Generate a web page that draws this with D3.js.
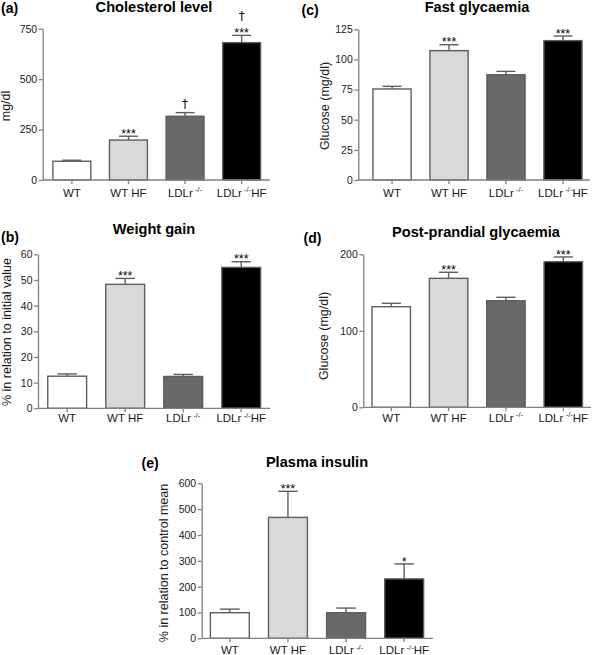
<!DOCTYPE html>
<html>
<head>
<meta charset="utf-8">
<script src="https://cdn.jsdelivr.net/npm/d3@7/dist/d3.min.js"></script>
<style>
  html, body { margin: 0; padding: 0; background: #fff; }
  svg { display: block; font-family: "Liberation Sans", Arial, Helvetica, sans-serif; }
</style>
</head>
<body>
<svg id="chart" width="594" height="655"></svg>
<script>
// ---------------- DATA ----------------
const categories = ["WT", "WT HF", "LDLr-/-", "LDLr-/- HF"];

const cholesterol      = [93, 198, 316, 681];
const cholesterolErr   = [5, 19, 18, 36];
const cholesterolSig   = [[], ["***"], ["†"], ["***", "†"]];
const cholesterolTicks = [0, 250, 500, 750];

const weightGain      = [12.5, 48.3, 12.4, 54.9];
const weightGainErr   = [0.9, 2.3, 0.8, 2.2];
const weightGainSig   = [[], ["***"], [], ["***"]];
const weightGainTicks = [0, 10, 20, 30, 40, 50, 60];

const fastGlycaemia      = [75.5, 107.3, 87.3, 115.6];
const fastGlycaemiaErr   = [2.2, 4.9, 2.8, 3.8];
const fastGlycaemiaSig   = [[], ["***"], [], ["***"]];
const fastGlycaemiaTicks = [0, 25, 50, 75, 100, 125];

const postGlycaemia      = [131.5, 168.6, 139.3, 190.3];
const postGlycaemiaErr   = [4.5, 7.9, 4.5, 6.2];
const postGlycaemiaSig   = [[], ["***"], [], ["***"]];
const postGlycaemiaTicks = [0, 100, 200];

const insulin      = [99, 468, 99, 230];
const insulinErr   = [14, 101, 18, 58];
const insulinSig   = [[], ["***"], [], ["*"]];
const insulinTicks = [0, 100, 200, 300, 400, 500, 600];

// ---------------- STYLE / LAYOUT ----------------
const fills = ["#ffffff", "#d9d9d9", "#696969", "#000000"];
const axisColor = "#808080";
const barStroke = "#5e5e5e";
const textColor = "#1a1a1a";

const panels = [
  { letter: "(a)", title: "Cholesterol level", ylabel: "mg/dl",
    values: cholesterol, errs: cholesterolErr, sig: cholesterolSig, ticks: cholesterolTicks,
    yAxisX: 42.7, band: [43, 270.5], axisEnd: 270, yRange: [180, 28.7],
    titlePos: [154, 11.7], letterPos: [1, 12.5], ylabelPos: [9.5, 106], xlabDy: 16.7 },
  { letter: "(b)", title: "Weight gain", ylabel: "% in relation to initial value",
    values: weightGain, errs: weightGainErr, sig: weightGainSig, ticks: weightGainTicks,
    yAxisX: 38, band: [37.6, 270.8], axisEnd: 270, yRange: [408.3, 254.3],
    titlePos: [154, 234], letterPos: [1, 242], ylabelPos: [11, 332], xlabDy: 13.8 },
  { letter: "(c)", title: "Fast glycaemia", ylabel: "Glucose (mg/dl)",
    values: fastGlycaemia, errs: fastGlycaemiaErr, sig: fastGlycaemiaSig, ticks: fastGlycaemiaTicks,
    yAxisX: 358.3, band: [363, 592], axisEnd: 590, yRange: [180, 29.3],
    titlePos: [477, 11.7], letterPos: [301.5, 14.5], ylabelPos: [329, 106], xlabDy: 16.7 },
  { letter: "(d)", title: "Post-prandial glycaemia", ylabel: "Glucose (mg/dl)",
    values: postGlycaemia, errs: postGlycaemiaErr, sig: postGlycaemiaSig, ticks: postGlycaemiaTicks,
    yAxisX: 363.3, band: [362, 592.5], axisEnd: 591, yRange: [407.3, 254.3],
    titlePos: [476, 237], letterPos: [303.5, 243], ylabelPos: [328, 336], xlabDy: 14.2 },
  { letter: "(e)", title: "Plasma insulin", ylabel: "% in relation to control mean",
    values: insulin, errs: insulinErr, sig: insulinSig, ticks: insulinTicks,
    yAxisX: 201.7, band: [200.2, 433.8], axisEnd: 433, yRange: [638.3, 483.3],
    titlePos: [317, 466.5], letterPos: [141.5, 468], ylabelPos: [168, 563], xlabDy: 15.7 }
];

const svg = d3.select("#chart");

function xLabel(g, cat) {
  const parts = cat.split("-/-");
  const t = g.append("text").attr("text-anchor", "middle")
    .attr("font-size", 11.5).attr("fill", textColor);
  if (parts.length === 1) { t.text(cat); return t; }
  t.append("tspan").text(parts[0] + "\u2009");
  t.append("tspan").attr("font-size", 7.5).attr("dy", -4.5).text("-/-");
  if (parts[1]) t.append("tspan").attr("dy", 4.5).text(parts[1].trim());
  return t;
}

panels.forEach(p => {
  const g = svg.append("g");
  const maxTick = p.ticks[p.ticks.length - 1];
  const x = d3.scaleBand().domain(categories).range(p.band)
    .paddingInner(0.33).paddingOuter(0.175);
  const y = d3.scaleLinear().domain([0, maxTick]).range(p.yRange);
  const y0 = y(0);
  const bw = x.bandwidth();

  // error bars (behind bars)
  const eb = g.append("g").attr("stroke", barStroke).attr("stroke-width", 1.4).attr("fill", "none");
  categories.forEach((c, i) => {
    const cx = x(c) + bw / 2;
    const top = y(p.values[i] + p.errs[i]);
    eb.append("line").attr("x1", cx).attr("x2", cx).attr("y1", y(p.values[i])).attr("y2", top);
    eb.append("line").attr("x1", cx - bw * 0.25).attr("x2", cx + bw * 0.25).attr("y1", top).attr("y2", top);
  });

  // bars
  g.append("g").selectAll("rect").data(categories).join("rect")
    .attr("x", c => x(c))
    .attr("width", bw)
    .attr("y", (c, i) => y(p.values[i]))
    .attr("height", (c, i) => y0 - y(p.values[i]))
    .attr("fill", (c, i) => fills[i])
    .attr("stroke", barStroke)
    .attr("stroke-width", 1.4);

  // significance marks
  categories.forEach((c, i) => {
    const cx = x(c) + bw / 2;
    const cap = y(p.values[i] + p.errs[i]);
    let level = cap;
    p.sig[i].forEach((s, k) => {
      const t = g.append("text").attr("text-anchor", "middle").attr("fill", "#000");
      if (s.indexOf("*") >= 0) {
        const center = level - 5.5;
        t.attr("font-size", 12.5).attr("x", cx).attr("y", center + 7.2).text(s);
        level = center;
      } else {
        const base = k === 0 ? level - 4.4 : level - 10;
        t.attr("font-size", 12).attr("font-family", "DejaVu Sans, sans-serif")
          .attr("x", cx).attr("y", base).text(s);
        level = base - 8;
      }
    });
  });

  // y axis
  const ya = g.append("g").attr("transform", `translate(${p.yAxisX},0)`)
    .call(d3.axisLeft(y).tickValues(p.ticks).tickSize(4).tickSizeOuter(0).tickPadding(1.5));
  ya.select(".domain").attr("stroke", axisColor).attr("stroke-width", 1.3);
  ya.selectAll(".tick line").attr("stroke", axisColor).attr("stroke-width", 1.3);
  ya.selectAll(".tick text").attr("font-size", 10.5).attr("fill", textColor)
    .attr("font-family", "Liberation Sans, Arial, sans-serif");

  // x axis
  g.append("line").attr("x1", p.yAxisX).attr("x2", p.axisEnd).attr("y1", y0).attr("y2", y0)
    .attr("stroke", axisColor).attr("stroke-width", 1.3);
  const xa = g.append("g").attr("transform", `translate(0,${y0})`)
    .call(d3.axisBottom(x).tickSize(4).tickSizeOuter(0).tickFormat(() => ""));
  xa.select(".domain").remove();
  xa.selectAll(".tick line").attr("stroke", axisColor).attr("stroke-width", 1.3);
  categories.forEach(c => {
    xLabel(g, c).attr("x", x(c) + bw / 2).attr("y", y0 + p.xlabDy);
  });

  // y label
  g.append("text").attr("transform", `translate(${p.ylabelPos[0]},${p.ylabelPos[1]}) rotate(-90)`)
    .attr("text-anchor", "middle").attr("font-size", 12.5).attr("fill", textColor).text(p.ylabel);

  // title
  g.append("text").attr("x", p.titlePos[0]).attr("y", p.titlePos[1])
    .attr("text-anchor", "middle").attr("font-size", 14.6).attr("font-weight", "bold")
    .attr("fill", "#000").text(p.title);

  // panel letter
  g.append("text").attr("x", p.letterPos[0]).attr("y", p.letterPos[1])
    .attr("font-size", 14).attr("font-weight", "bold").attr("fill", "#000").text(p.letter);
});
</script>
</body>
</html>
